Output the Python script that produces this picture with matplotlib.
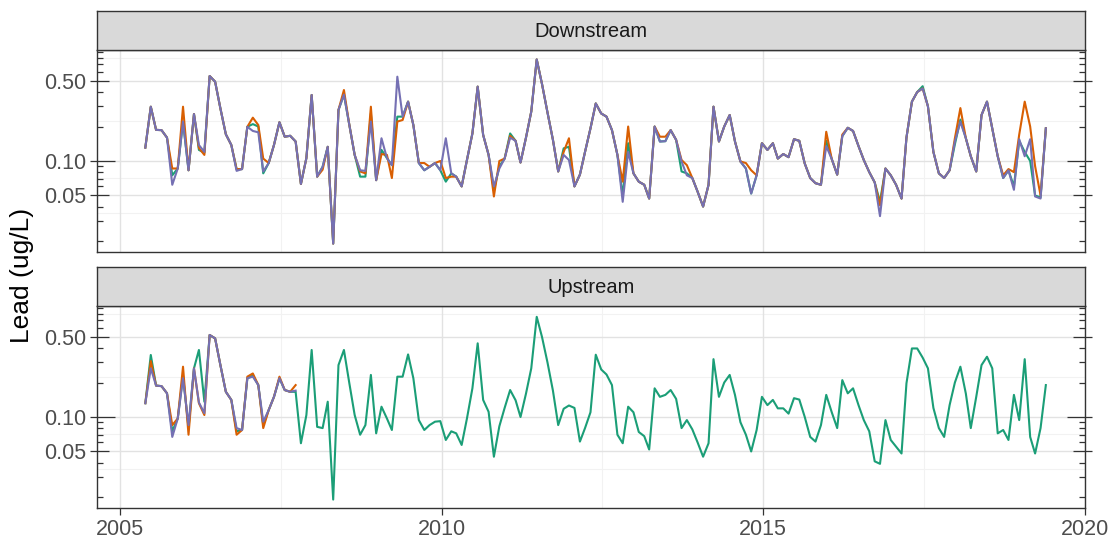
import numpy as np
import pandas as pd
import matplotlib
matplotlib.use("Agg")
import matplotlib.pyplot as plt
from matplotlib.ticker import FixedLocator, FixedFormatter, NullLocator

plt.rcParams['font.family'] = ['Liberation Sans', 'DejaVu Sans']

# ---------------- data ----------------
start_date = "2005-04-25"
n_samples = 169

down_purple = [0.131, 0.298, 0.187, 0.186, 0.160, 0.062, 0.086, 0.221, 0.083, 0.257,
               0.138, 0.120, 0.552, 0.493, 0.288, 0.171, 0.138, 0.082, 0.085, 0.199,
               0.183, 0.178, 0.081, 0.096, 0.138, 0.218, 0.163, 0.166, 0.148, 0.063,
               0.106, 0.377, 0.073, 0.089, 0.133, 0.019, 0.279, 0.380, 0.210, 0.113,
               0.083, 0.082, 0.221, 0.068, 0.158, 0.106, 0.092, 0.545, 0.244, 0.330,
               0.206, 0.096, 0.083, 0.089, 0.096, 0.083, 0.158, 0.078, 0.073, 0.060,
               0.102, 0.174, 0.446, 0.169, 0.113, 0.060, 0.086, 0.105, 0.160, 0.150,
               0.097, 0.160, 0.270, 0.770, 0.470, 0.266, 0.153, 0.081, 0.113, 0.102,
               0.060, 0.076, 0.120, 0.193, 0.318, 0.260, 0.244, 0.186, 0.113, 0.044,
               0.120, 0.078, 0.066, 0.062, 0.047, 0.200, 0.148, 0.149, 0.186, 0.153,
               0.099, 0.075, 0.071, 0.054, 0.040, 0.062, 0.298, 0.148, 0.200, 0.252,
               0.148, 0.099, 0.086, 0.052, 0.075, 0.143, 0.125, 0.143, 0.105, 0.115,
               0.108, 0.155, 0.150, 0.095, 0.071, 0.064, 0.062, 0.135, 0.104, 0.076,
               0.165, 0.195, 0.183, 0.135, 0.102, 0.080, 0.065, 0.033, 0.086, 0.075,
               0.062, 0.047, 0.160, 0.330, 0.400, 0.430, 0.300, 0.120, 0.078, 0.071,
               0.083, 0.148, 0.220, 0.158, 0.110, 0.081, 0.252, 0.330, 0.193, 0.110,
               0.071, 0.083, 0.056, 0.155, 0.110, 0.155, 0.049, 0.047, 0.193]

down_orange = [0.131, 0.298, 0.187, 0.186, 0.160, 0.086, 0.086, 0.298, 0.083, 0.257,
               0.130, 0.113, 0.552, 0.493, 0.288, 0.171, 0.138, 0.085, 0.085, 0.199,
               0.239, 0.206, 0.105, 0.096, 0.138, 0.218, 0.163, 0.166, 0.148, 0.063,
               0.106, 0.377, 0.073, 0.084, 0.133, 0.019, 0.279, 0.417, 0.210, 0.113,
               0.081, 0.078, 0.298, 0.068, 0.115, 0.113, 0.071, 0.221, 0.228, 0.330,
               0.206, 0.096, 0.096, 0.089, 0.096, 0.100, 0.071, 0.073, 0.073, 0.060,
               0.102, 0.174, 0.446, 0.169, 0.113, 0.049, 0.100, 0.105, 0.166, 0.150,
               0.097, 0.160, 0.270, 0.770, 0.470, 0.266, 0.153, 0.081, 0.120, 0.158,
               0.060, 0.076, 0.120, 0.193, 0.318, 0.260, 0.244, 0.186, 0.113, 0.066,
               0.200, 0.078, 0.066, 0.062, 0.047, 0.200, 0.163, 0.163, 0.186, 0.153,
               0.102, 0.092, 0.071, 0.054, 0.040, 0.062, 0.298, 0.148, 0.200, 0.252,
               0.148, 0.099, 0.096, 0.083, 0.075, 0.143, 0.125, 0.143, 0.105, 0.115,
               0.108, 0.155, 0.150, 0.095, 0.071, 0.064, 0.062, 0.180, 0.104, 0.076,
               0.170, 0.195, 0.183, 0.135, 0.102, 0.080, 0.065, 0.041, 0.086, 0.075,
               0.062, 0.047, 0.160, 0.330, 0.400, 0.430, 0.300, 0.120, 0.078, 0.071,
               0.083, 0.158, 0.290, 0.158, 0.110, 0.081, 0.252, 0.330, 0.193, 0.110,
               0.075, 0.085, 0.080, 0.170, 0.330, 0.200, 0.090, 0.050, 0.193]

down_green = [0.131, 0.298, 0.187, 0.186, 0.160, 0.075, 0.086, 0.220, 0.083, 0.257,
              0.125, 0.118, 0.552, 0.493, 0.288, 0.171, 0.138, 0.085, 0.085, 0.199,
              0.210, 0.200, 0.078, 0.096, 0.138, 0.218, 0.163, 0.166, 0.148, 0.063,
              0.106, 0.377, 0.073, 0.089, 0.133, 0.019, 0.279, 0.380, 0.210, 0.113,
              0.073, 0.073, 0.260, 0.068, 0.125, 0.106, 0.092, 0.244, 0.244, 0.330,
              0.206, 0.096, 0.083, 0.089, 0.096, 0.083, 0.066, 0.078, 0.073, 0.060,
              0.102, 0.174, 0.446, 0.169, 0.113, 0.055, 0.090, 0.105, 0.174, 0.150,
              0.097, 0.160, 0.270, 0.770, 0.470, 0.266, 0.153, 0.081, 0.129, 0.133,
              0.060, 0.076, 0.120, 0.193, 0.318, 0.260, 0.244, 0.186, 0.113, 0.050,
              0.143, 0.078, 0.066, 0.062, 0.047, 0.200, 0.148, 0.149, 0.186, 0.153,
              0.081, 0.078, 0.071, 0.054, 0.040, 0.062, 0.298, 0.148, 0.200, 0.252,
              0.148, 0.099, 0.086, 0.052, 0.075, 0.143, 0.125, 0.143, 0.105, 0.115,
              0.108, 0.155, 0.150, 0.095, 0.071, 0.064, 0.062, 0.150, 0.104, 0.076,
              0.165, 0.195, 0.183, 0.135, 0.102, 0.080, 0.065, 0.044, 0.086, 0.075,
              0.062, 0.047, 0.160, 0.330, 0.400, 0.450, 0.300, 0.120, 0.078, 0.071,
              0.083, 0.140, 0.230, 0.158, 0.110, 0.081, 0.252, 0.330, 0.193, 0.110,
              0.071, 0.083, 0.060, 0.150, 0.120, 0.100, 0.050, 0.048, 0.193]

up_green = [0.132, 0.348, 0.188, 0.186, 0.161, 0.075, 0.097, 0.230, 0.080, 0.266,
            0.385, 0.136, 0.520, 0.486, 0.284, 0.166, 0.141, 0.075, 0.077, 0.218,
            0.230, 0.190, 0.085, 0.115, 0.150, 0.218, 0.172, 0.166, 0.166, 0.059,
            0.104, 0.385, 0.082, 0.080, 0.136, 0.019, 0.284, 0.385, 0.200, 0.104,
            0.070, 0.085, 0.233, 0.072, 0.123, 0.097, 0.077, 0.225, 0.225, 0.352,
            0.218, 0.094, 0.077, 0.085, 0.091, 0.092, 0.063, 0.075, 0.072, 0.057,
            0.097, 0.178, 0.440, 0.141, 0.111, 0.045, 0.083, 0.120, 0.172, 0.140,
            0.100, 0.160, 0.266, 0.750, 0.500, 0.300, 0.170, 0.085, 0.118, 0.126,
            0.120, 0.061, 0.080, 0.110, 0.350, 0.260, 0.235, 0.190, 0.070, 0.059,
            0.123, 0.110, 0.074, 0.068, 0.052, 0.178, 0.150, 0.156, 0.172, 0.144,
            0.080, 0.094, 0.078, 0.060, 0.045, 0.059, 0.320, 0.150, 0.200, 0.233,
            0.156, 0.090, 0.070, 0.050, 0.077, 0.150, 0.127, 0.141, 0.119, 0.119,
            0.107, 0.146, 0.142, 0.100, 0.067, 0.061, 0.085, 0.156, 0.110, 0.080,
            0.210, 0.161, 0.178, 0.127, 0.094, 0.075, 0.041, 0.039, 0.094, 0.063,
            0.055, 0.048, 0.197, 0.397, 0.397, 0.330, 0.266, 0.120, 0.080, 0.067,
            0.127, 0.200, 0.275, 0.160, 0.080, 0.150, 0.284, 0.336, 0.266, 0.072,
            0.077, 0.063, 0.156, 0.094, 0.320, 0.067, 0.048, 0.080, 0.190]

up_orange = [0.132, 0.308, 0.188, 0.186, 0.161, 0.085, 0.097, 0.275, 0.070, 0.266,
             0.132, 0.104, 0.520, 0.486, 0.284, 0.166, 0.141, 0.070, 0.077, 0.225,
             0.240, 0.190, 0.080, 0.115, 0.150, 0.225, 0.172, 0.166, 0.190]

up_purple = [0.132, 0.266, 0.188, 0.186, 0.161, 0.067, 0.097, 0.218, 0.085, 0.266,
             0.134, 0.108, 0.520, 0.486, 0.284, 0.166, 0.141, 0.080, 0.077, 0.218,
             0.225, 0.190, 0.091, 0.115, 0.150, 0.218, 0.172, 0.166, 0.170]

panel_titles = ["Downstream", "Upstream"]
y_breaks = [0.05, 0.10, 0.50]
y_labels = ["0.05", "0.10", "0.50"]
x_breaks = [2005, 2010, 2015, 2020]
x_labels = ["2005", "2010", "2015", "2020"]

colors = {"green": "#1B9E77", "orange": "#D95F02", "purple": "#7570B3"}

# decimal-year dates of the monthly samples
dts = pd.date_range(start_date, periods=n_samples, freq="MS") + pd.Timedelta(days=24)
years = np.array([d.year + (d.dayofyear - 1) / 365.25 for d in dts])

# ---------------- figure ----------------
W, H = 1114, 540
fig = plt.figure(figsize=(W / 100, H / 100), dpi=100)

def fx(px):
    return px / W

def fy(py):
    return 1 - py / H

left_px, right_px = 97, 1085
panels_px = [(50, 252), (306, 508)]
strips_px = [(11, 50), (267, 306)]

xlim = (2005 + (left_px - 120) / 64.4, 2020.003)
ylim = (10 ** (-1 - 91 / 114.5), 10 ** (-1 + 111 / 114.5))

edge = "#333333"
grid_major = "#e2e2e2"
grid_minor = "#f2f2f2"

series_top = [(down_green, "green"), (down_orange, "orange"), (down_purple, "purple")]
series_bot = [(up_green, "green"), (up_orange, "orange"), (up_purple, "purple")]

for k, ((t, b), (st, sb)) in enumerate(zip(panels_px, strips_px)):
    ax = fig.add_axes([fx(left_px), fy(b), fx(right_px - left_px), (b - t) / H])
    ax.set_yscale("log")
    ax.set_xlim(*xlim)
    ax.set_ylim(*ylim)

    # grid
    for yv in [0.0354, 0.0707, 0.2236, 0.79]:
        ax.axhline(yv, color=grid_minor, lw=0.8, zorder=0)
    for xv in [2007.5, 2012.5, 2017.5]:
        ax.axvline(xv, color=grid_minor, lw=0.8, zorder=0)
    for yv in y_breaks:
        ax.axhline(yv, color=grid_major, lw=1.0, zorder=0)
    for xv in x_breaks:
        ax.axvline(xv, color=grid_major, lw=1.0, zorder=0)

    ser = series_top if k == 0 else series_bot
    for vals, cname in ser:
        ax.plot(years[:len(vals)], vals, color=colors[cname], lw=1.5,
                solid_joinstyle="round", zorder=3)

    # log ticks inside (annotation_logticks style), left and right
    ytr = ax.get_yaxis_transform()
    pw = right_px - left_px
    for dec in [0.01, 0.1]:
        for m in range(1, 10):
            v = dec * m
            if not (ylim[0] <= v <= ylim[1]):
                continue
            if m == 1:
                L = 18
            elif m == 5:
                L = 12
            else:
                L = 6
            ax.plot([0, L / pw], [v, v], transform=ytr, color=edge, lw=0.9,
                    clip_on=False, zorder=4, solid_capstyle="butt")
            ax.plot([1 - L / pw, 1], [v, v], transform=ytr, color=edge, lw=0.9,
                    clip_on=False, zorder=4, solid_capstyle="butt")

    ax.yaxis.set_major_locator(FixedLocator(y_breaks))
    ax.yaxis.set_major_formatter(FixedFormatter(y_labels))
    ax.yaxis.set_minor_locator(NullLocator())
    ax.tick_params(axis="y", which="major", direction="out", length=5, width=0.9,
                   color=edge, labelsize=15.5, labelcolor="#4d4d4d", pad=3,
                   left=True, right=True, labelleft=True, labelright=False)

    ax.xaxis.set_major_locator(FixedLocator(x_breaks))
    ax.xaxis.set_minor_locator(NullLocator())
    if k == 1:
        ax.xaxis.set_major_formatter(FixedFormatter(x_labels))
        ax.tick_params(axis="x", which="major", direction="out", length=5, width=0.9,
                       color=edge, labelsize=15.5, labelcolor="#4d4d4d", pad=3)
    else:
        ax.tick_params(axis="x", which="both", bottom=False, labelbottom=False)

    for sp in ax.spines.values():
        sp.set_color(edge)
        sp.set_linewidth(1.0)

    # strip
    sax = fig.add_axes([fx(left_px), fy(sb), fx(right_px - left_px), (sb - st) / H])
    sax.set_facecolor("#d9d9d9")
    sax.set_xticks([])
    sax.set_yticks([])
    for sp in sax.spines.values():
        sp.set_color(edge)
        sp.set_linewidth(1.0)
    sax.text(0.5, 0.47, panel_titles[k], transform=sax.transAxes, ha="center",
             va="center", fontsize=14.5, color="#1a1a1a")

fig.text(fx(22), fy(275), "Lead (ug/L)", rotation=90, ha="center", va="center",
         fontsize=19, color="black")

fig.savefig("out.png", dpi=100, facecolor="white")
